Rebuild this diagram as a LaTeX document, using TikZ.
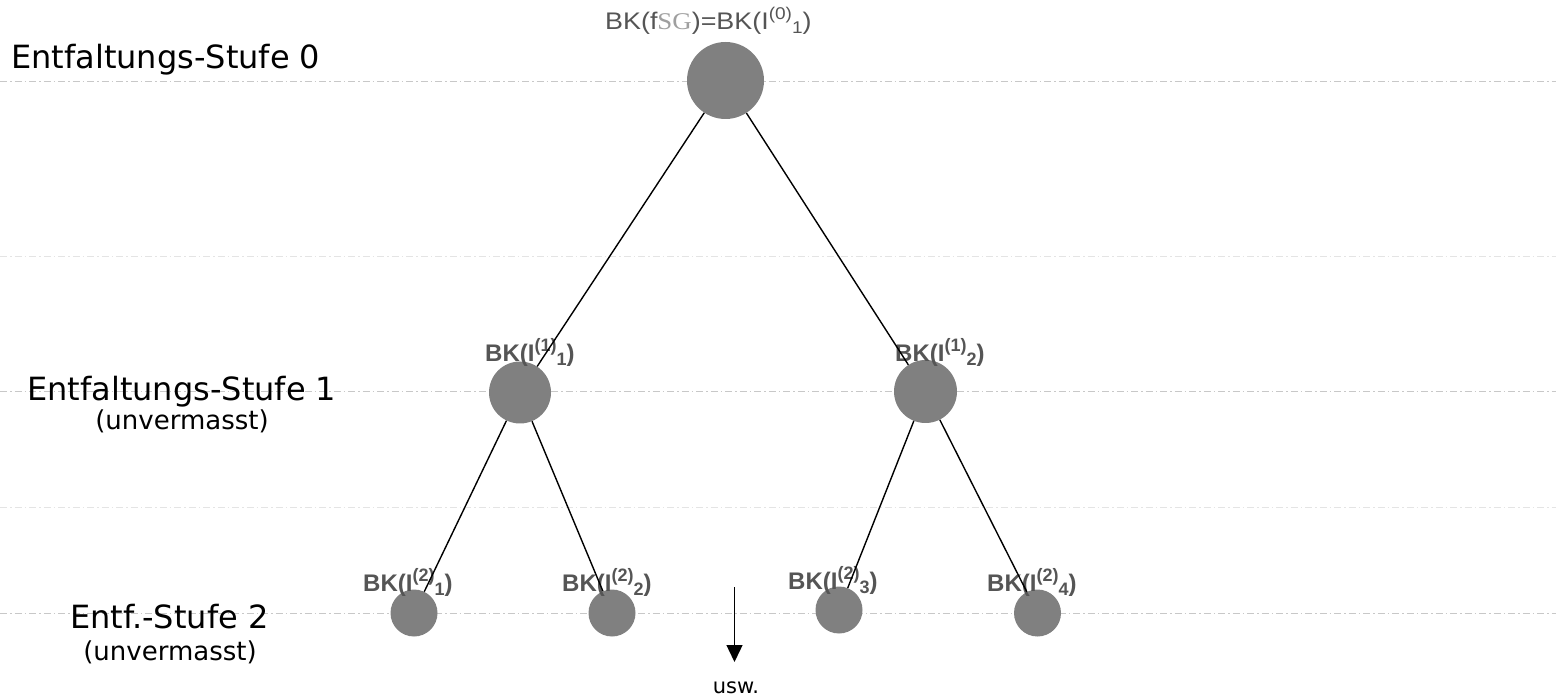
\documentclass[tikz,border=0pt]{standalone}
\usepackage{fontspec}
\setmainfont{Liberation Sans}
\newfontfamily\verd{DejaVu Sans}
\newfontfamily\serf{Liberation Serif}
\usetikzlibrary{arrows.meta}
\definecolor{nodegray}{HTML}{808080}
\definecolor{lblgray}{HTML}{555555}
\definecolor{lineA}{HTML}{C8C8C8}
\definecolor{lineB}{HTML}{E4E4E4}
\newcommand{\mylbl}[2]{BK(I\raisebox{10pt}{\fontsize{18}{18}\selectfont(#1)}\raisebox{-4pt}{\fontsize{18}{18}\selectfont #2})}
\begin{document}
\begin{tikzpicture}[x=1pt,y=-1pt,
  level/.style={draw=lineA, line width=1pt, dash pattern=on 7pt off 3pt on 1.5pt off 3pt},
  faint/.style={draw=lineB, line width=1pt, dash pattern=on 7pt off 3pt on 1.5pt off 3pt},
  ball/.style={circle, fill=nodegray, inner sep=0pt},
  lvlbl/.style={anchor=base west, text=lblgray, font=\bfseries\fontsize{24}{24}\selectfont, inner sep=0pt},
  stufe/.style={font=\verd\fontsize{32}{36}\selectfont, inner sep=0pt, anchor=base west},
  unv/.style={font=\verd\fontsize{26}{30}\selectfont, inner sep=0pt, anchor=base},
  edge/.style={draw=black, line width=1.4pt}]
\useasboundingbox (0,0) rectangle (1556,700);
% level lines
\coordinate (l0a) at (0,82); \coordinate (l0b) at (1556,82);
\coordinate (f1a) at (0,257); \coordinate (f1b) at (1556,257);
\coordinate (l1a) at (0,392); \coordinate (l1b) at (1556,392);
\coordinate (f2a) at (0,507); \coordinate (f2b) at (1556,507);
\coordinate (l2a) at (0,613); \coordinate (l2b) at (1556,613);
\draw[level] (l0a) -- (l0b);
\draw[faint] (f1a) -- (f1b);
\draw[level] (l1a) -- (l1b);
\draw[faint] (f2a) -- (f2b);
\draw[level] (l2a) -- (l2b);
% left labels
\node[stufe] (s0) at (11,69) {Entfaltungs-Stufe 0};
\node[stufe] (s1) at (27,401) {Entfaltungs-Stufe 1};
\node[unv] (u1) at (182,430) {(unvermasst)};
\node[stufe] (s2) at (70,628) {Entf.-Stufe 2};
\node[unv] (u2) at (170,660) {(unvermasst)};
% nodes
\node[ball, minimum size=77pt] (n0) at (725.5,80.5) {};
\node[ball, minimum size=62pt] (n1) at (520,392.5) {};
\node[ball, minimum size=63pt] (n2) at (925.5,391.5) {};
\node[ball, minimum size=47pt] (m1) at (414,613) {};
\node[ball, minimum size=47pt] (m2) at (612,613) {};
\node[ball, minimum size=47pt] (m3) at (839,610) {};
\node[ball, minimum size=47pt] (m4) at (1037.5,613) {};
% node labels
\node[anchor=base west, text=lblgray, font=\fontsize{24}{24}\selectfont, inner sep=0pt] (t0) at (605,30)
  {\scalebox{1.12}[1]{BK(f{\serf\color{gray!75}SG})=BK(I\raisebox{10pt}{\fontsize{17}{17}\selectfont(0)}\raisebox{-4pt}{\fontsize{17}{17}\selectfont 1})}};
\node[lvlbl] (t1) at (485,362) {\mylbl{1}{1}};
\node[lvlbl] (t2) at (895,362) {\mylbl{1}{2}};
\node[lvlbl] (t3) at (363,591) {\mylbl{2}{1}};
\node[lvlbl] (t4) at (562,591) {\mylbl{2}{2}};
\node[lvlbl] (t5) at (788,589) {\mylbl{2}{3}};
\node[lvlbl] (t6) at (987,591) {\mylbl{2}{4}};
% edges
\draw[edge] (n0) -- (n1);
\draw[edge] (n0) -- (n2);
\draw[edge] (n1) -- (m1);
\draw[edge] (n1) -- (m2);
\draw[edge] (n2) -- (m3);
\draw[edge] (n2) -- (m4);
% usw arrow
\coordinate (ua) at (734.5,587);
\node[font=\verd\fontsize{21}{24}\selectfont, inner sep=0pt, anchor=base] (usw) at (736,693) {usw.};
\coordinate (ub) at (734.5,662);
\draw[edge, -{Triangle[length=17pt,width=16pt]}] (ua) -- (ub);
\end{tikzpicture}
\end{document}
